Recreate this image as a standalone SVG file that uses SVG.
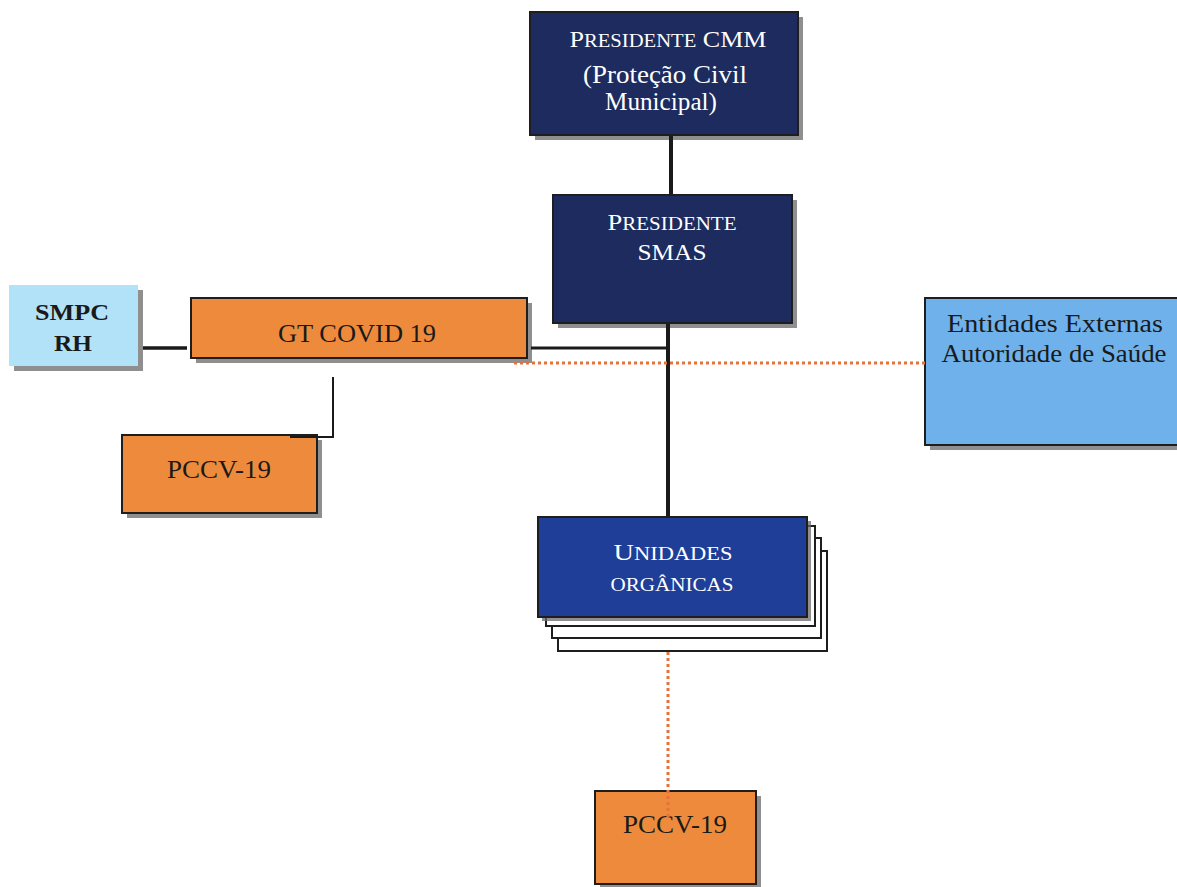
<svg xmlns="http://www.w3.org/2000/svg" width="1177" height="887" viewBox="0 0 1177 887">
<defs>
<style>
.t{font-family:"Liberation Serif","Times New Roman",serif;text-anchor:middle}
.w{fill:#ffffff}
.k{fill:#1a1a1a}
.box{stroke:#1e1e1e;stroke-width:2}
.sh{fill:#6a6a6a;opacity:0.75}
.navy{fill:#1d2b5e}
.blue{fill:#1f3e97}
.org{fill:#ee8a3c}
.lb{fill:#b2e2f7}
.eb{fill:#6fb1ea}
.ln{stroke:#1a1a1a;fill:none}
.dot{stroke:#e8703a;stroke-width:3;stroke-dasharray:3 3;fill:none}
</style>
</defs>
<rect width="1177" height="887" fill="#ffffff"/>

<g id="presidente-cmm">
<rect class="sh" x="535" y="17" width="268" height="123"/>
<rect class="box navy" x="530" y="12" width="268" height="123"/>
<text class="t w" x="668" y="47" font-size="24" textLength="197" lengthAdjust="spacingAndGlyphs">P<tspan font-size="19">RESIDENTE</tspan> CMM</text>
<text class="t w" x="665" y="83" font-size="25" textLength="164" lengthAdjust="spacingAndGlyphs">(Proteção Civil</text>
<text class="t w" x="661" y="110" font-size="25" textLength="112" lengthAdjust="spacingAndGlyphs">Municipal)</text>
</g>

<g id="presidente-smas">
<rect class="sh" x="558" y="200" width="239" height="128"/>
<rect class="box navy" x="553" y="195" width="239" height="128"/>
<text class="t w" x="672" y="230" font-size="24" textLength="129" lengthAdjust="spacingAndGlyphs">P<tspan font-size="19">RESIDENTE</tspan></text>
<text class="t w" x="672" y="260" font-size="24" textLength="69" lengthAdjust="spacingAndGlyphs">SMAS</text>
</g>

<g id="smpc-rh">
<rect class="sh" x="14" y="290" width="129" height="81"/>
<rect x="9" y="285" width="129" height="81" class="lb"/>
<text class="t k" x="72" y="320" font-size="24" font-weight="bold" textLength="74" lengthAdjust="spacingAndGlyphs">SMPC</text>
<text class="t k" x="73" y="351" font-size="24" font-weight="bold" textLength="38" lengthAdjust="spacingAndGlyphs">RH</text>
</g>

<g id="gt-covid">
<rect class="sh" x="196" y="303" width="336" height="60"/>
<rect class="box org" x="191" y="298" width="336" height="60"/>
<text class="t k" x="357" y="342" font-size="26" textLength="158" lengthAdjust="spacingAndGlyphs">GT COVID 19</text>
</g>

<g id="pccv-left">
<rect class="sh" x="127" y="440" width="195" height="78"/>
<rect class="box org" x="122" y="435" width="195" height="78"/>
<text class="t k" x="219" y="478" font-size="25" textLength="104" lengthAdjust="spacingAndGlyphs">PCCV-19</text>
</g>

<g id="entidades-externas">
<rect class="sh" x="930" y="303" width="260" height="147"/>
<rect class="box eb" x="925" y="298" width="260" height="147"/>
<text class="t k" x="1055" y="332" font-size="25" textLength="216" lengthAdjust="spacingAndGlyphs">Entidades Externas</text>
<text class="t k" x="1054" y="362" font-size="25" textLength="225" lengthAdjust="spacingAndGlyphs">Autoridade de Saúde</text>
</g>

<g id="unidades-organicas">
<rect x="558" y="551" width="269" height="100" fill="#ffffff" stroke="#1e1e1e" stroke-width="2"/>
<rect x="552" y="538" width="269" height="100" fill="#ffffff" stroke="#1e1e1e" stroke-width="2"/>
<rect x="546" y="526" width="269" height="100" fill="#ffffff" stroke="#1e1e1e" stroke-width="2"/>
<rect class="sh" x="542" y="521" width="269" height="100"/>
<rect class="box blue" x="538" y="517" width="269" height="100"/>
<text class="t w" x="673" y="560" font-size="24" textLength="119" lengthAdjust="spacingAndGlyphs">U<tspan font-size="19">NIDADES</tspan></text>
<text class="t w" x="672" y="591" font-size="19" textLength="123" lengthAdjust="spacingAndGlyphs">ORGÂNICAS</text>
</g>

<g id="pccv-bottom">
<rect class="sh" x="600" y="796" width="161" height="93"/>
<rect class="box org" x="595" y="791" width="161" height="93"/>
<text class="t k" x="675" y="833" font-size="25" textLength="104" lengthAdjust="spacingAndGlyphs">PCCV-19</text>
</g>

<g id="connectors">
<line class="ln" x1="671" y1="136" x2="671" y2="194" stroke-width="4"/>
<line class="ln" x1="668" y1="324" x2="668" y2="516" stroke-width="4"/>
<line class="ln" x1="531" y1="348" x2="666" y2="348" stroke-width="3"/>
<line class="ln" x1="143" y1="348" x2="187" y2="348" stroke-width="3.5"/>
<polyline class="ln" points="333,377 333,437 290,437" stroke-width="2"/>
<line class="dot" x1="514" y1="363" x2="925" y2="363"/>
<line class="dot" x1="668" y1="652" x2="668" y2="818"/>
</g>
</svg>
